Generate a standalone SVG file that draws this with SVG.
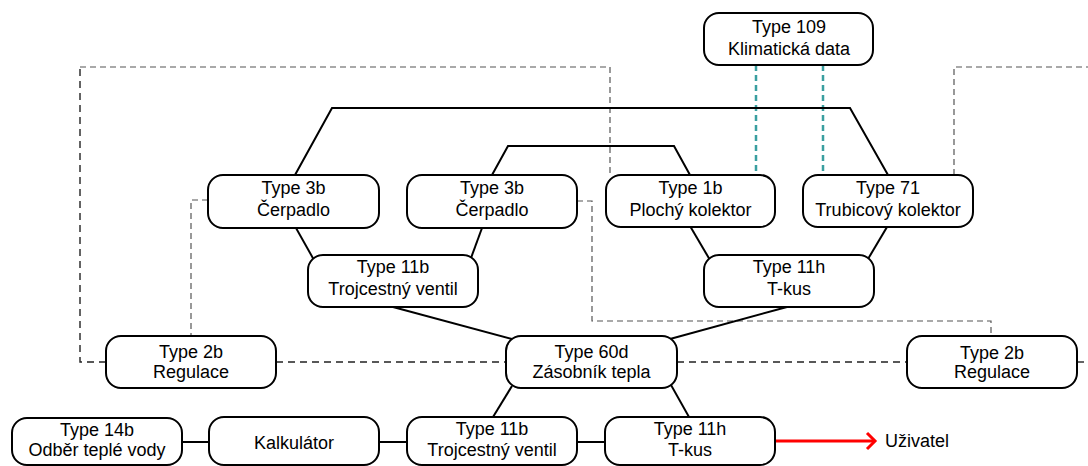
<svg xmlns="http://www.w3.org/2000/svg" width="1088" height="466" viewBox="0 0 1088 466">
<style>
.n rect{fill:#fff;stroke:#000;stroke-width:2}
.n text{font-family:"Liberation Sans",Arial,sans-serif;font-size:18px;fill:#000;text-anchor:middle}
.s{fill:none;stroke:#000;stroke-width:2}
.d{fill:none;stroke:#555;stroke-width:1.2;stroke-dasharray:6,4}
.dk{fill:none;stroke:#222;stroke-width:1.4;stroke-dasharray:7,5}
.t{fill:none;stroke:#3a9fa0;stroke-width:2.5;stroke-dasharray:6,4}
.r{fill:none;stroke:#f00;stroke-width:3}
.lbl{font-family:"Liberation Sans",Arial,sans-serif;font-size:18px;fill:#000}
</style>
<rect width="1088" height="466" fill="#fff"/>
<g id="connectors">
<polyline class="dk" points="106,362 80,362 80,67"/>
<polyline class="d" points="80,67 610,67 610,175"/>
<line class="dk" x1="276" y1="362" x2="506" y2="362"/>
<line class="dk" x1="677" y1="362" x2="907" y2="362"/>
<line class="dk" x1="1077" y1="362" x2="1088" y2="362"/>
<polyline class="d" points="954,175 954,67 1088,67"/>
<polyline class="d" points="208,200 191,200 191,336"/>
<polyline class="d" points="577,201 592,201 592,321 991,321 991,336"/>
<line class="t" x1="756" y1="65" x2="756" y2="175"/>
<line class="t" x1="823" y1="65" x2="823" y2="175"/>
<polyline class="s" points="295,175 332,108 850,108 888,175"/>
<polyline class="s" points="492,175 508,146 674,146 690,175"/>
<line class="s" x1="296" y1="228" x2="314" y2="260"/>
<line class="s" x1="482" y1="228" x2="471" y2="258"/>
<line class="s" x1="690" y1="226" x2="710" y2="260"/>
<line class="s" x1="887" y1="227" x2="868" y2="259"/>
<line class="s" x1="393" y1="307" x2="512" y2="339"/>
<line class="s" x1="787" y1="307" x2="670" y2="339"/>
<line class="s" x1="512" y1="386" x2="493" y2="417"/>
<line class="s" x1="671" y1="385" x2="689" y2="417"/>
<line class="s" x1="182" y1="442" x2="209" y2="442"/>
<line class="s" x1="379" y1="442" x2="407" y2="442"/>
<line class="s" x1="577" y1="442" x2="605" y2="442"/>
<line class="r" x1="775" y1="441" x2="874" y2="441"/>
<polyline class="r" points="867,433 875,441 867,449" stroke-width="3.5"/>
</g>
<g id="n109" class="n"><rect x="704" y="13" width="169" height="52" rx="15"/><text x="789" y="33">Type 109</text><text x="789" y="55">Klimatická data</text></g>
<g id="n3bL" class="n"><rect x="208" y="175" width="171" height="53" rx="15"/><text x="293.5" y="194">Type 3b</text><text x="293.5" y="216">Čerpadlo</text></g>
<g id="n3bM" class="n"><rect x="407" y="175" width="170" height="53" rx="15"/><text x="492" y="194">Type 3b</text><text x="492" y="216">Čerpadlo</text></g>
<g id="n1b" class="n"><rect x="606" y="175" width="169" height="52" rx="15"/><text x="690.5" y="194">Type 1b</text><text x="690.5" y="216">Plochý kolektor</text></g>
<g id="n71" class="n"><rect x="803" y="175" width="170" height="52" rx="15"/><text x="888" y="194">Type 71</text><text x="888" y="216">Trubicový kolektor</text></g>
<g id="n11bU" class="n"><rect x="308" y="255" width="170" height="52" rx="15"/><text x="393" y="273">Type 11b</text><text x="393" y="295">Trojcestný ventil</text></g>
<g id="n11hU" class="n"><rect x="704" y="255" width="170" height="52" rx="15"/><text x="789" y="273">Type 11h</text><text x="789" y="295">T-kus</text></g>
<g id="n2bL" class="n"><rect x="106" y="336" width="170" height="52" rx="15"/><text x="191" y="358">Type 2b</text><text x="191" y="378">Regulace</text></g>
<g id="n60d" class="n"><rect x="506" y="336" width="171" height="52" rx="15"/><text x="591.5" y="358">Type 60d</text><text x="591.5" y="378">Zásobník tepla</text></g>
<g id="n2bR" class="n"><rect x="907" y="336" width="170" height="52" rx="15"/><text x="992" y="359">Type 2b</text><text x="992" y="378">Regulace</text></g>
<g id="n14b" class="n"><rect x="12" y="418" width="170" height="47" rx="15"/><text x="97" y="436">Type 14b</text><text x="97" y="456">Odběr teplé vody</text></g>
<g id="nKalk" class="n"><rect x="209" y="417" width="170" height="48" rx="15"/><text x="294" y="449">Kalkulátor</text></g>
<g id="n11bB" class="n"><rect x="407" y="417" width="170" height="48" rx="15"/><text x="492" y="435">Type 11b</text><text x="492" y="456">Trojcestný ventil</text></g>
<g id="n11hB" class="n"><rect x="605" y="417" width="170" height="48" rx="15"/><text x="690" y="435">Type 11h</text><text x="690" y="456">T-kus</text></g>
<text class="lbl" x="885" y="447">Uživatel</text>
</svg>
